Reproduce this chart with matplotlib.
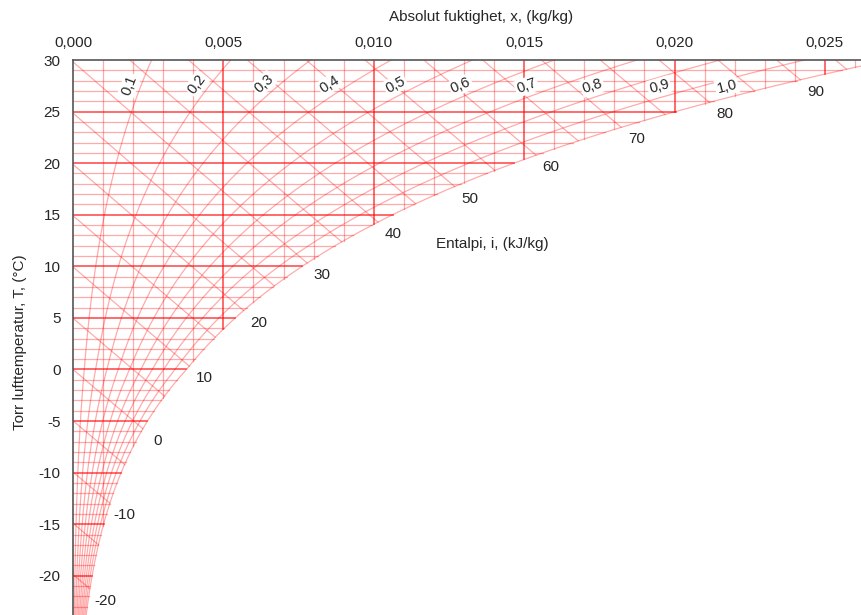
import numpy as np
import matplotlib.pyplot as plt

plt.rcParams["font.family"] = ["Liberation Sans", "DejaVu Sans"]

P_ATM = 101.325  # kPa

# chart limits
T_MIN, T_MAX = -23.8, 30.0
X_MAX = 0.0262

# grid levels
temperature_lines = list(range(-23, 30))
humidity_lines = [k / 1000 for k in range(1, 27)]
rh_levels = [0.1, 0.2, 0.3, 0.4, 0.5, 0.6, 0.7, 0.8, 0.9]
rh_label_levels = [0.1, 0.2, 0.3, 0.4, 0.5, 0.6, 0.7, 0.8, 0.9, 1.0]
rh_label_text = ["0,1", "0,2", "0,3", "0,4", "0,5", "0,6", "0,7", "0,8", "0,9", "1,0"]
enthalpy_lines = list(range(-20, 100, 5))
enthalpy_labels = [-20, -10, 0, 10, 20, 30, 40, 50, 60, 70, 80, 90]
x_ticks = [0.000, 0.005, 0.010, 0.015, 0.020, 0.025]
y_ticks = [30, 25, 20, 15, 10, 5, 0, -5, -10, -15, -20]

THIN = dict(color="red", alpha=0.33, lw=0.9)
THICK = dict(color="red", alpha=0.68, lw=1.2)
TEXT_COLOR = "#262626"
FS = 11


def p_sat(t):
    t = np.asarray(t, dtype=float)
    water = 0.61094 * np.exp(17.625 * t / (t + 243.04))
    ice = 0.61115 * np.exp(22.452 * t / (t + 272.55))
    return np.where(t >= 0, water, ice)


def humidity(t, phi=1.0):
    p = phi * p_sat(t)
    return 0.622 * p / (P_ATM - p)


def dew_point(x):
    p = x * P_ATM / (0.622 + x)
    g = np.log(p / 0.61094)
    t = 243.04 * g / (17.625 - g)
    if t < 0:
        g = np.log(p / 0.61115)
        t = 272.55 * g / (22.452 - g)
    return t


def temp_at_enthalpy(h, x):
    return (h - 2501.0 * x) / (1.006 + 1.86 * x)


fig = plt.figure(figsize=(8.61, 6.15), dpi=100)
ax = fig.add_axes([73 / 861, 0, 788 / 861, 555 / 615])
ax.set_xlim(0, X_MAX)
ax.set_ylim(T_MIN, T_MAX)

# dry bulb temperature lines, up to saturation
for t in temperature_lines:
    style = THICK if t % 5 == 0 else THIN
    ax.plot([0, humidity(t)], [t, t], **style)

# humidity lines, down to dew point
for x in humidity_lines:
    style = THICK if round(x * 1000) % 5 == 0 else THIN
    ax.plot([x, x], [dew_point(x), T_MAX], **style)

# relative humidity curves
t_curve = np.linspace(T_MIN - 1, T_MAX + 1, 600)
for phi in rh_levels:
    ax.plot(humidity(t_curve, phi), t_curve, **THIN)
ax.plot(humidity(t_curve), t_curve, **THIN)

# enthalpy lines, ending on the saturation curve
xs = np.linspace(0, 0.03, 3001)
sat_points = {}
for h in enthalpy_lines:
    t_line = temp_at_enthalpy(h, xs)
    diff = xs - humidity(t_line)
    x_end = np.interp(0.0, diff, xs)
    t_end = temp_at_enthalpy(h, x_end)
    keep = xs < x_end
    ax.plot(np.append(xs[keep], x_end), np.append(t_line[keep], t_end), **THIN)
    sat_points[h] = (x_end, t_end)

for h in enthalpy_labels:
    ax.annotate(str(h), xy=sat_points[h], xytext=(15, -12), textcoords="offset pixels",
                ha="center", va="center", fontsize=FS, color=TEXT_COLOR)

ax.text(0.01393, 12.2, "Entalpi, i, (kJ/kg)", ha="center", va="center",
        fontsize=FS, color=TEXT_COLOR)

# relative humidity labels, rotated along each curve
to_data = ax.transData.inverted()
for phi, label in zip(rh_label_levels, rh_label_text):
    t_lab = 26.4 + 0.8 * (1 - phi) ** 2 / 0.81
    p0 = ax.transData.transform((humidity(t_lab - 0.2, phi), t_lab - 0.2))
    p1 = ax.transData.transform((humidity(t_lab + 0.2, phi), t_lab + 0.2))
    ang = np.arctan2(p1[1] - p0[1], p1[0] - p0[0])
    mid = ax.transData.transform((humidity(t_lab, phi), t_lab))
    pos = mid + 11 * np.array([-np.sin(ang), np.cos(ang)])
    xl, tl = to_data.transform(pos)
    ax.text(xl, tl, label, rotation=np.degrees(ang), rotation_mode="anchor",
            ha="center", va="center", fontsize=10.5, color=TEXT_COLOR, zorder=5,
            bbox=dict(boxstyle="square,pad=0.1", fc="white", ec="none"))

# axes styling
ax.xaxis.tick_top()
ax.set_xticks(x_ticks)
ax.set_xticklabels([f"{v:.3f}".replace(".", ",") for v in x_ticks])
ax.set_yticks(y_ticks)
ax.set_yticklabels([str(v) for v in y_ticks])
ax.tick_params(axis="both", length=0, labelsize=FS, labelcolor=TEXT_COLOR)
ax.tick_params(axis="x", pad=7)
ax.tick_params(axis="y", pad=9)
for side in ("right", "bottom"):
    ax.spines[side].set_visible(False)
for side in ("top", "left"):
    ax.spines[side].set_color("#555555")
    ax.spines[side].set_linewidth(1.2)

fig.text(481 / 861, 1 - 17 / 615, "Absolut fuktighet, x, (kg/kg)", ha="center", va="center",
         fontsize=FS, color=TEXT_COLOR)
fig.text(20 / 861, 1 - 342 / 615, "Torr lufttemperatur, T, (°C)", ha="center", va="center",
         rotation=90, fontsize=FS, color=TEXT_COLOR)

fig.savefig("out.png", dpi=100)
